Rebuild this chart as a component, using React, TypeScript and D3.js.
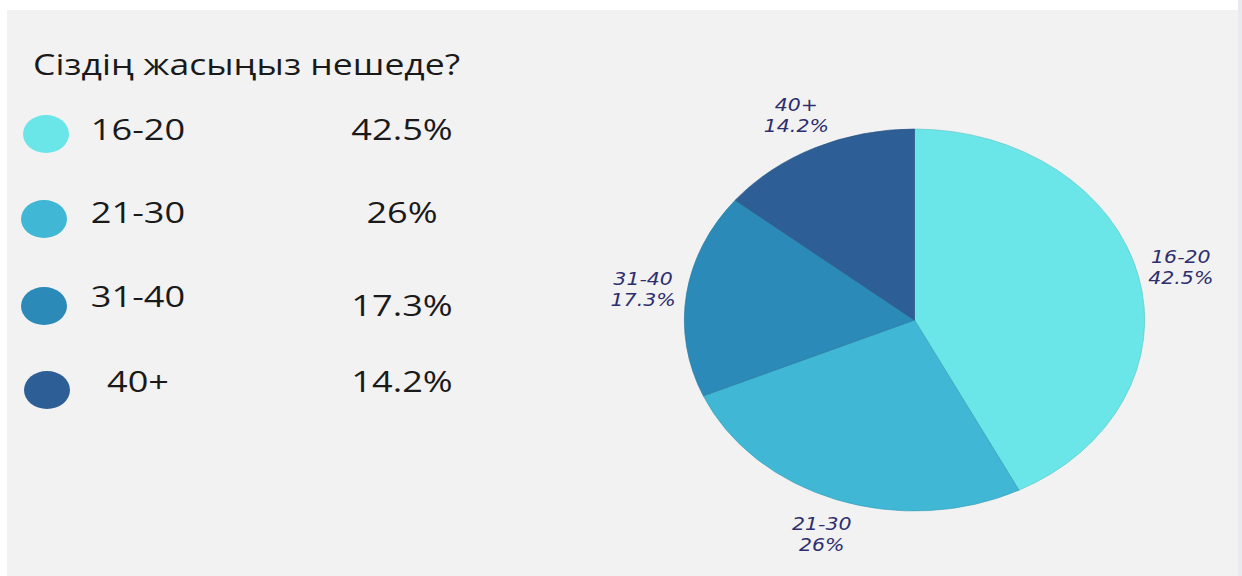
import React from "react";
import * as d3 from "d3";

const title = "Сіздің жасыңыз нешеде?";
const categories = ["16-20", "21-30", "31-40", "40+"];
const values = [42.5, 26, 17.3, 14.2];
const valueLabels = ["42.5%", "26%", "17.3%", "14.2%"];
const colors = ["#6ae5e8", "#40b7d5", "#2b8ab8", "#2d5e95"];

const W = 1242;
const H = 576;
const SX = 1.205; // horizontal stretch of the picture

export default function App() {
  const cx = 914.5;
  const cy = 320;
  const r = 191;

  const pie = d3.pie<number>().sort(null).value((d) => d);
  const arcs = pie(values);
  const arc = d3.arc<d3.PieArcDatum<number>>().innerRadius(0).outerRadius(r);
  const labelArc = d3
    .arc<d3.PieArcDatum<number>>()
    .innerRadius(r * 1.19)
    .outerRadius(r * 1.19);

  const legendBase = [140, 223, 307, 392];
  const valueBase = [140, 223, 316, 392];
  const swatchX = [46, 44, 44, 47];
  const swatchY = [134, 219, 306, 390];
  const labelX = [138, 138, 138, 138];

  return (
    <svg
      width={W}
      height={H}
      style={{ position: "absolute", left: 0, top: 0, display: "block" }}
    >
      <rect x={0} y={0} width={W} height={H} fill="#ffffff" />
      <rect x={7} y={10} width={1231} height={H - 10} fill="#f2f2f2" />
      <rect x={1238} y={0} width={4} height={H} fill="#e9e9f0" />

      <text
        transform={`translate(33,75) scale(${SX},1)`}
        fontFamily="'Open Sans', sans-serif"
        fontSize={29.5}
        fill="#1a1a1a"
      >
        {title}
      </text>

      {categories.map((c, i) => (
        <g key={c}>
          <ellipse
            cx={swatchX[i]}
            cy={swatchY[i]}
            rx={23}
            ry={19}
            fill={colors[i]}
          />
          <text
            transform={`translate(${labelX[i]},${legendBase[i]}) scale(${SX},1)`}
            textAnchor="middle"
            fontFamily="'Open Sans', sans-serif"
            fontSize={30}
            fill="#1a1a1a"
          >
            {c}
          </text>
          <text
            transform={`translate(402,${valueBase[i]}) scale(${SX},1)`}
            textAnchor="middle"
            fontFamily="'Open Sans', sans-serif"
            fontSize={30}
            fill="#1a1a1a"
          >
            {valueLabels[i]}
          </text>
        </g>
      ))}

      <g transform={`translate(${cx},${cy}) scale(${SX},1)`}>
        {arcs.map((a, i) => (
          <path
            key={i}
            d={arc(a) || ""}
            fill={colors[i]}
            stroke={d3.color(colors[i])!.darker(0.4).formatHex()}
            strokeWidth={0.6}
          />
        ))}
      </g>

      {arcs.map((a, i) => {
        const [lx, ly] = labelArc.centroid(a);
        const x = cx + lx * SX;
        const y = cy + ly;
        return (
          <text
            key={i}
            transform={`translate(${x},${y}) scale(${SX},1)`}
            textAnchor="middle"
            fontFamily="'DejaVu Sans', sans-serif"
            fontStyle="italic"
            fontSize={17}
            fill="#2e2e6e"
          >
            <tspan x={0} dy={-4}>
              {categories[i]}
            </tspan>
            <tspan x={0} dy={21}>
              {valueLabels[i]}
            </tspan>
          </text>
        );
      })}
    </svg>
  );
}
